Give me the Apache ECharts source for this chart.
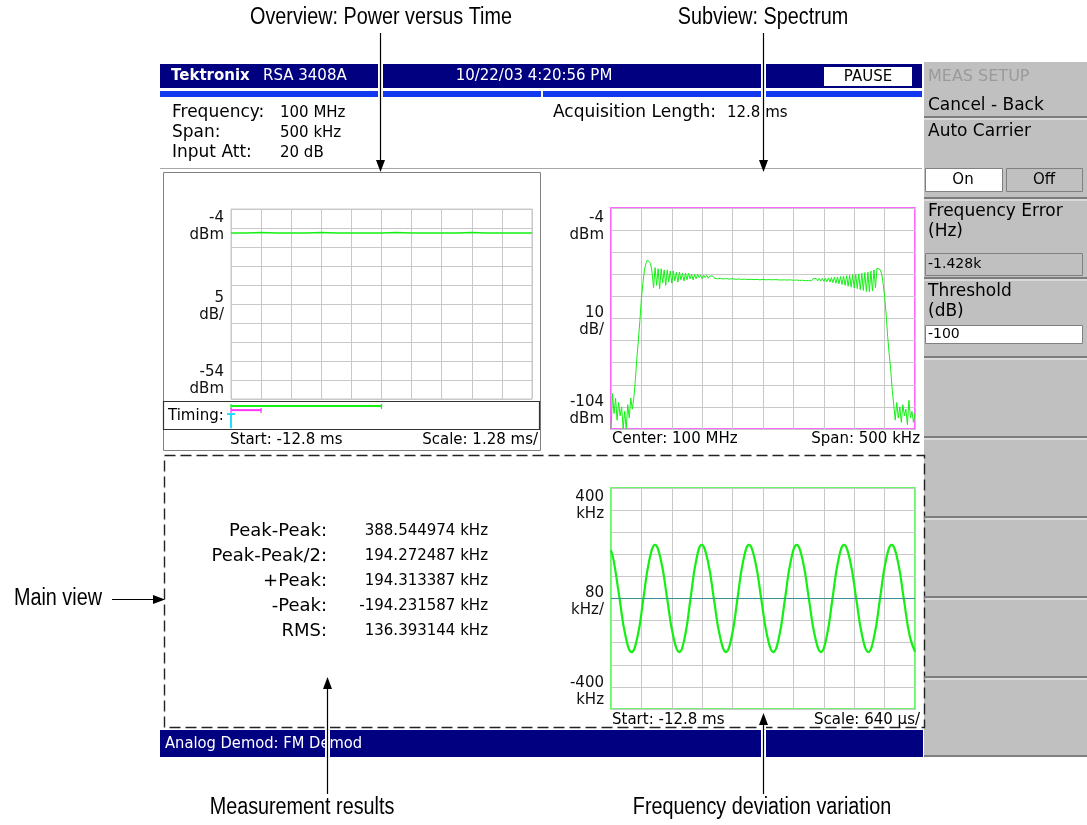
<!DOCTYPE html>
<html><head><meta charset="utf-8">
<script src="https://cdn.jsdelivr.net/npm/echarts@6/dist/echarts.min.js"></script>
<style>html,body{margin:0;padding:0;background:#fff}#c{width:1087px;height:825px}</style>
</head><body><div id="c"></div>
<script>
// ---------------- DATA ----------------
// Overview: power versus time (ms, dBm)
const ovTimeMs = [-12.8,-12.16,-11.52,-10.88,-10.24,-9.6,-8.96,-8.32,-7.68,-7.04,-6.4,-5.76,-5.12,-4.48,-3.84,-3.2,-2.56,-1.92,-1.28,-0.64,0];
const ovPowerDbm = [-10.3,-10.3,-10.2,-10.3,-10.3,-10.3,-10.2,-10.3,-10.3,-10.3,-10.3,-10.2,-10.3,-10.3,-10.3,-10.3,-10.2,-10.3,-10.3,-10.3,-10.3];
const ovYLabels = ['-4\ndBm', '5\ndB/', '-54\ndBm'];
const ovRange = { min: -54, max: -4, tMin: -12.8, tMax: 0 };

// Timing bars (ms)
const timingStartMs = [-12.8, -12.8, -12.8];
const timingEndMs = [-6.4, -11.52, -12.8];

// Subview: spectrum (kHz offset from 100 MHz, dBm), sampled every 2.5 kHz from -250 kHz
const specStartKHz = -250, specStepKHz = 2.5;
const specPowerDbm = [
 -104,-88,-97,-90,-100,-92,-98,-94,-104,-96,-104,-93,-99,-90,-95,
 -90,-82,-72,-64,-55,-45,-38,-32,-29,-27.5,-27.3,-29,-33,
 -40,-31,-39,-31.5,-40.5,-31.5,-38,-32,-39,-32,-37.5,-32.5,-38,-32.5,-37,-33,-37.5,-33,-36.5,-33.5,-37,-33.5,-36.5,-33.5,-36,-34,-36.5,-34,-36,-34,-35.5,-34.3,-36,-34.5,-35.5,-34.5,-35.8,-34.8,-35.6,-34.8,-35.8,
 -35.0,-36.0,-35.1,-35.9,-35.2,-36.1,-35.3,-35.9,-35.4,-36.2,
 -35.5,-36.0,-35.6,-36.3,-35.6,-36.1,-35.7,-36.3,-35.8,-36.2,
 -35.8,-36.4,-35.9,-36.3,-35.9,-36.4,-36.0,-36.3,-35.9,-36.5,
 -36.0,-36.3,-36.0,-36.5,-36.1,-36.4,-36.0,-36.5,-36.1,-36.4,
 -36.0,-36.5,-36.1,-36.6,-36.0,-36.5,-36.1,-36.6,-36.2,-36.5,
 -36.0,-36.7,-36.1,-36.6,-36.0,-36.8,-36.2,-36.7,-36.1,-36.9,
 -36.0,-36.8,-36.1,-37.0,-36.0,-36.9,-35.9,-37.0,-35.9,-37.1,
 -35.8,-37.2,-35.8,-37.4,-35.6,-37.5,-35.5,-37.8,-35.3,-38.0,
 -35.2,-38.3,-35.0,-38.6,-34.8,-39.0,-34.6,-39.4,-34.5,-39.8,
 -34.2,-40.2,-34.0,-40.5,-33.8,-41.0,-33.5,-41.3,-33.2,-41.8,
 -33.0,-42.0,-32.5,-41.5,-32.0,-40.0,-31.2,
 -31.0,-31.8,-33.5,-38,-44,-52,-62,-70,-77,-86,-93,-100,
 -92,-99,-94,-101,-93,-98,-95,-102,-91,-99,-96,-101,-97
];
const specYLabels = ['-4\ndBm', '10\ndB/', '-104\ndBm'];
const specRange = { min: -104, max: -4, fMin: -250, fMax: 250 };

// Main view: FM deviation versus time (ms, kHz)
const fmTimeMs = [-12.800,-12.743,-12.620,-12.493,-12.365,-12.240,-12.118,-11.996,
 -11.874,-11.747,-11.618,-11.489,-11.361,-11.243,-11.126,-11.008,
 -10.891,-10.763,-10.635,-10.507,-10.379,-10.258,-10.137,-10.016,
 -9.895,-9.767,-9.638,-9.510,-9.382,-9.259,-9.136,-9.014,
 -8.891,-8.763,-8.635,-8.507,-8.379,-8.258,-8.137,-8.016,
 -7.895,-7.767,-7.638,-7.510,-7.382,-7.259,-7.136,-7.014,
 -6.891,-6.764,-6.637,-6.510,-6.400];
const fmDevKHz = [174,137,0,-137,-194,-137,0,137,
 194,137,0,-137,-194,-137,0,137,
 194,137,0,-137,-194,-137,0,137,
 194,137,0,-137,-194,-137,0,137,
 194,137,0,-137,-194,-137,0,137,
 194,137,0,-137,-194,-137,0,137,
 194,137,0,-137,-193];
const fmYLabels = ['400\nkHz', '80\nkHz/', '-400\nkHz'];
const fmRange = { min: -400, max: 400, tMin: -12.8, tMax: -6.4 };

// Measurement results
const resultLabels = ['Peak-Peak:', 'Peak-Peak/2:', '+Peak:', '-Peak:', 'RMS:'];
const resultValues = ['388.544974 kHz', '194.272487 kHz', '194.313387 kHz', '-194.231587 kHz', '136.393144 kHz'];

// ---------------- STYLE ----------------
const SF = "'DejaVu Sans', Verdana, sans-serif";
const AF = "'Liberation Sans', Arial, sans-serif";
const NAVY = '#000080', GRAY = '#c0c0c0', GRID = '#c8c8c8';
const GREEN = '#14f014', MAGENTA = '#ff33ff', CYAN = '#22ddff';

const specFreqKHz = specPowerDbm.map((_, i) => specStartKHz + i * specStepKHz);
const pairs = (xs, ys) => xs.map((x, i) => [x, ys[i]]);

function labelPositions(r, insetDiv) {
  const div = (r.max - r.min) / 10;
  return [r.max - insetDiv * div, (r.max + r.min) / 2 - 0.15 * div, r.min + insetDiv * div];
}
function yDataAxis(gi, r, labels, inset) {
  const cv = labelPositions(r, inset);
  return {
    type: 'value', gridIndex: gi, min: r.min, max: r.max,
    axisLine: { show: false }, axisTick: { show: false }, splitLine: { show: false },
    axisLabel: {
      show: true, customValues: cv, margin: 7, color: '#111', fontFamily: SF, fontSize: 15,
      lineHeight: 17, align: 'right',
      formatter: function (v) {
        let best = 0, bd = Infinity;
        cv.forEach((c, j) => { const d = Math.abs(c - v); if (d < bd) { bd = d; best = j; } });
        return labels[best];
      }
    }
  };
}
function xDataAxis(gi, min, max) {
  return { type: 'value', gridIndex: gi, min, max, show: true,
    axisLine: { show: false }, axisTick: { show: false }, axisLabel: { show: false }, splitLine: { show: false } };
}
function divAxis(gi) {
  return { type: 'value', gridIndex: gi, min: 0, max: 10, interval: 1,
    axisLine: { show: false }, axisTick: { show: false }, axisLabel: { show: false },
    splitLine: { show: true, lineStyle: { color: GRID, width: 1 } } };
}

// ---------------- GRAPHICS (chrome) ----------------
const G = [];
function T(x, y, text, o) {
  o = o || {};
  G.push({ type: 'text', x, y, z: o.z || 10, silent: true, scaleX: o.sx || 1,
    style: { text, fill: o.fill || '#000', font: (o.weight || 'normal') + ' ' + (o.size || 15) + 'px ' + (o.family || SF),
      align: o.align || 'left', verticalAlign: 'middle' } });
}
function R(x, y, w, h, fill, stroke, lw, z, dash) {
  G.push({ type: 'rect', z: z || 1, silent: true, shape: { x, y, width: w, height: h },
    style: { fill: fill || 'none', stroke: stroke || 'none', lineWidth: lw || 1, lineDash: dash || null } });
}
function L(x1, y1, x2, y2, stroke, lw, z) {
  G.push({ type: 'line', z: z || 5, silent: true, shape: { x1, y1, x2, y2 }, style: { stroke, lineWidth: lw || 1 } });
}
function P(points, fill, z) {
  G.push({ type: 'polygon', z: z || 50, silent: true, shape: { points }, style: { fill } });
}

// header
R(160, 64, 762, 24, NAVY);
T(171, 76, 'Tektronix', { fill: '#fff', weight: 'bold', size: 15 });
T(263, 76, 'RSA 3408A', { fill: '#fff', size: 15 });
T(534, 76, '10/22/03 4:20:56 PM', { fill: '#fff', size: 15, align: 'center' });
R(824, 67, 88, 19, '#fff');
T(868, 77, 'PAUSE', { size: 15, align: 'center' });
R(160, 91, 381, 6, '#1238f0');
R(543, 91, 379, 6, '#1238f0');
// info
T(172, 113, 'Frequency:', { size: 17 });
T(280, 113, '100 MHz', { size: 15 });
T(172, 133, 'Span:', { size: 17 });
T(280, 133, '500 kHz', { size: 15 });
T(172, 153, 'Input Att:', { size: 17 });
T(280, 153, '20 dB', { size: 15 });
T(553, 113, 'Acquisition Length:', { size: 17 });
T(727, 113, '12.8 ms', { size: 15 });
L(160, 168.5, 922, 168.5, '#a8a8a8', 1);

// overview panel
R(163.5, 172.5, 377, 278, 'none', '#808080', 1);
R(163.5, 401.5, 376, 28, '#fff', '#333', 1.2, 2);
T(168, 416, 'Timing:', { size: 15 });
T(230, 440, 'Start: -12.8 ms', { size: 15 });
T(538, 440, 'Scale: 1.28 ms/', { size: 15, align: 'right' });
// spectrum
T(612, 439, 'Center: 100 MHz', { size: 15 });
T(920, 439, 'Span: 500 kHz', { size: 15, align: 'right' });
// main view
R(164.5, 455.5, 760, 272, 'none', '#222', 1.4, 3, [11, 5]);
T(612, 720, 'Start: -12.8 ms', { size: 15 });
T(920, 720, 'Scale: 640 \u00b5s/', { size: 15, align: 'right' });
resultLabels.forEach((s, i) => {
  T(327, 531 + 25 * i, s, { size: 18, align: 'right' });
  T(488, 531 + 25 * i, resultValues[i], { size: 15, align: 'right' });
});
// status bar
R(160, 730, 763, 27, NAVY);
T(165, 744, 'Analog Demod: FM Demod', { fill: '#fff', size: 16, sx: 0.92 });

// right menu panel
R(924, 62, 163, 695, GRAY);
L(924, 756, 1087, 756, '#808080', 2, 4);
T(928, 77, 'MEAS SETUP', { fill: '#9a9a9a', size: 16 });
T(928, 106, 'Cancel - Back', { size: 17 });
function sep(y) { L(924, y, 1087, y, '#7c7c7c', 2, 4); L(924, y + 2, 1087, y + 2, '#f4f4f4', 1, 4); }
sep(117);
T(928, 132, 'Auto Carrier', { size: 17 });
R(925.5, 168.5, 77, 23, '#fff', '#808080', 1, 3);
T(963, 180, 'On', { size: 15, align: 'center' });
R(1006.5, 168.5, 76, 23, GRAY, '#808080', 1, 3);
T(1044, 180, 'Off', { size: 15, align: 'center' });
sep(198);
T(928, 212, 'Frequency Error', { size: 17 });
T(928, 232, '(Hz)', { size: 17 });
R(925.5, 253.5, 157, 22, GRAY, '#808080', 1, 3);
T(928, 264, '-1.428k', { size: 14 });
sep(278);
T(928, 292, 'Threshold', { size: 17 });
T(928, 312, '(dB)', { size: 17 });
R(925.5, 325.5, 157, 18, '#fff', '#808080', 1, 3);
T(928, 334, '-100', { size: 14 });
[357, 437, 517, 597, 677].forEach(sep);

// annotations (condensed)
const AN = { size: 23, family: AF, sx: 0.86 };
T(381, 18, 'Overview: Power versus Time', Object.assign({ align: 'center' }, AN));
T(763, 18, 'Subview: Spectrum', Object.assign({ align: 'center' }, AN));
T(14, 599, 'Main view', AN);
T(302, 808, 'Measurement results', Object.assign({ align: 'center' }, AN));
T(762, 808, 'Frequency deviation variation', Object.assign({ align: 'center' }, AN));
function vArrow(x, yFrom, yTip) {
  const up = yTip < yFrom, h = up ? 12 : -12;
  L(x, yFrom, x, yTip + h, '#fff', 5, 40);
  L(x, yFrom, x, yTip + h, '#000', 1.2, 45);
  P([[x - 4.5, yTip + h], [x + 4.5, yTip + h], [x, yTip]], '#000');
}
vArrow(380.5, 33, 172);
vArrow(763.5, 33, 172);
vArrow(327.5, 794, 677);
vArrow(763.5, 794, 713);
L(112, 599.5, 153, 599.5, '#000', 1.2, 45);
P([[153, 595], [153, 604], [165, 599.5]], '#000');

// ---------------- CHART ----------------
const chart = echarts.init(document.getElementById('c'), null, { renderer: 'canvas', width: 1087, height: 825 });
const timingRows = [{ y: 1.4, color: GREEN }, { y: 2.9, color: MAGENTA }, { y: 4.3, y2: 9.4, color: CYAN, tee: true }];

chart.setOption({
  animation: false,
  backgroundColor: '#fff',
  grid: [
    { left: 231, top: 209, width: 301, height: 190, show: true, backgroundColor: '#fff', borderColor: GRID, borderWidth: 1, outerBoundsMode: 'none' },
    { left: 611, top: 208, width: 304, height: 221, show: true, backgroundColor: '#fff', borderColor: MAGENTA, borderWidth: 1.5, outerBoundsMode: 'none' },
    { left: 611, top: 488, width: 304, height: 221, show: true, backgroundColor: '#fff', borderColor: '#3cf03c', borderWidth: 1.5, outerBoundsMode: 'none' },
    { left: 231, top: 402, width: 301, height: 28, show: false, outerBoundsMode: 'none' }
  ],
  xAxis: [
    xDataAxis(0, ovRange.tMin, ovRange.tMax), divAxis(0),
    xDataAxis(1, specRange.fMin, specRange.fMax), divAxis(1),
    xDataAxis(2, fmRange.tMin, fmRange.tMax), divAxis(2),
    xDataAxis(3, ovRange.tMin, ovRange.tMax)
  ],
  yAxis: [
    yDataAxis(0, ovRange, ovYLabels, 0.95), divAxis(0),
    yDataAxis(1, specRange, specYLabels, 0.85), divAxis(1),
    yDataAxis(2, fmRange, fmYLabels, 0.8), divAxis(2),
    { type: 'value', gridIndex: 3, min: 0, max: 10, inverse: true, show: false }
  ],
  graphic: G,
  series: [
    { type: 'line', xAxisIndex: 0, yAxisIndex: 0, data: pairs(ovTimeMs, ovPowerDbm), showSymbol: false,
      lineStyle: { color: GREEN, width: 1.6 }, z: 3 },
    { type: 'line', xAxisIndex: 2, yAxisIndex: 2, data: pairs(specFreqKHz, specPowerDbm), showSymbol: false,
      lineStyle: { color: GREEN, width: 1 }, z: 3 },
    { type: 'line', xAxisIndex: 4, yAxisIndex: 4, data: pairs(fmTimeMs, fmDevKHz), showSymbol: false, smooth: 0.45,
      lineStyle: { color: GREEN, width: 2.2 }, z: 4,
      markLine: { silent: true, symbol: 'none', label: { show: false },
        lineStyle: { color: '#3a9090', width: 1.2, type: 'solid' }, data: [{ yAxis: 0 }] } },
    { type: 'custom', xAxisIndex: 6, yAxisIndex: 6, z: 5,
      data: timingStartMs.map((s, i) => [s, timingEndMs[i]]),
      renderItem: function (params, api) {
        const row = timingRows[params.dataIndex];
        const p0 = api.coord([api.value(0), row.y]);
        const p1 = api.coord([api.value(1), row.y]);
        const st = { stroke: row.color, lineWidth: 2 };
        if (row.tee) {
          const pb = api.coord([api.value(0), row.y2]);
          return { type: 'group', children: [
            { type: 'line', shape: { x1: p0[0], y1: p0[1], x2: pb[0], y2: pb[1] }, style: st },
            { type: 'line', shape: { x1: p0[0] - 4, y1: p0[1], x2: p0[0] + 4, y2: p0[1] }, style: st }
          ] };
        }
        return { type: 'group', children: [
          { type: 'line', shape: { x1: p0[0], y1: p0[1], x2: p1[0], y2: p1[1] }, style: st },
          { type: 'line', shape: { x1: p0[0], y1: p0[1] - 2, x2: p0[0], y2: p0[1] + 3 }, style: { stroke: row.color, lineWidth: 1.2 } },
          { type: 'line', shape: { x1: p1[0], y1: p1[1] - 2, x2: p1[0], y2: p1[1] + 3 }, style: { stroke: row.color, lineWidth: 1.2 } }
        ] };
      }
    }
  ]
});
</script></body></html>
